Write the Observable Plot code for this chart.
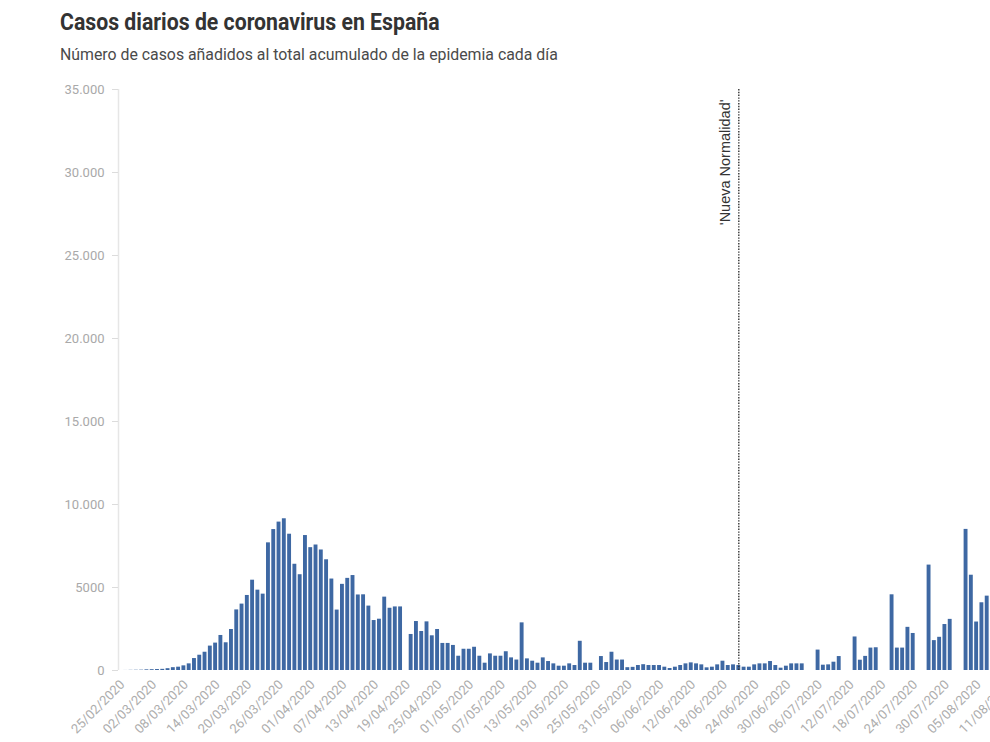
<!DOCTYPE html>
<html>
<head>
<meta charset="utf-8">
<script src="https://cdn.jsdelivr.net/npm/d3@7"></script>
<script src="https://cdn.jsdelivr.net/npm/@observablehq/plot@0.6"></script>
<style>
  html, body { margin: 0; padding: 0; background: #fff; overflow: hidden; }
  #wrap { position: relative; width: 990px; height: 742px; }
  #chart { position: absolute; left: 0; top: 0; }
  .head { position: absolute; left: 60px; white-space: nowrap; transform-origin: left top; }
  #title { top: 10px; font-family: Roboto, sans-serif; font-weight: 700; font-size: 24px; line-height: 1; color: #333; transform: scaleX(0.885); }
  #subtitle { top: 47px; font-family: Roboto, sans-serif; font-weight: 400; font-size: 16px; line-height: 1; color: #4a4a4a; transform: scaleX(0.99); }
</style>
</head>
<body>
<div id="wrap">
  <div id="chart"></div>
  <div class="head" id="title">Casos diarios de coronavirus en España</div>
  <div class="head" id="subtitle">Número de casos añadidos al total acumulado de la epidemia cada día</div>
</div>
<script>
// First day of the series; one value per consecutive day (null = no report that day)
const startDate = "2020-02-25";
const dailyCases = [
  0, 3, 10, 15, 20, 40, 50, 60, 70, 110,
  170, 200, 280, 400, 720, 920, 1100, 1470, 1650, 2110,
  1670, 2470, 3650, 4000, 4520, 5440, 4840, 4600, 7690, 8490,
  8940, 9140, 8210, 6400, 5770, 8130, 7400, 7560, 7260, 6670,
  5510, 3640, 5190, 5550, 5720, 4550, 4560, 3880, 3010, 3090,
  4420, 3750, 3830, 3830, null, 2170, 2950, 2350, 2930, 2090,
  2470, 1630, 1630, 1510, 860, 1280, 1280, 1400, 860, 440,
  1000, 860, 860, 1130, 760, 630, 2870, 700, 560, 440,
  760, 540, 400, 260, 260, 400, 300, 1760, 440, 440,
  null, 840, 480, 1100, 630, 630, 170, 190, 300, 350,
  300, 300, 300, 200, 120, 200, 300, 400, 460, 400,
  340, 160, 200, 340, 560, 300, 340, 300, 200, 200,
  340, 400, 400, 540, 300, 140, 260, 400, 400, 400,
  null, null, 1230, 320, 340, 500, 840, null, null, 2020,
  620, 850, 1350, 1370, null, null, 4560, 1350, 1350, 2600,
  2230, null, null, 6350, 1800, 2000, 2770, 3080, null, null,
  8500, 5740, 2920, 4080, 4480
];

// Date labels shown along the bottom axis
const xTickLabels = [
  "25/02/2020", "02/03/2020", "08/03/2020", "14/03/2020", "20/03/2020", "26/03/2020",
  "01/04/2020", "07/04/2020", "13/04/2020", "19/04/2020", "25/04/2020", "01/05/2020",
  "07/05/2020", "13/05/2020", "19/05/2020", "25/05/2020", "31/05/2020", "06/06/2020",
  "12/06/2020", "18/06/2020", "24/06/2020", "30/06/2020", "06/07/2020", "12/07/2020",
  "18/07/2020", "24/07/2020", "30/07/2020", "05/08/2020", "11/08/2020"
];

// Value axis
const yTicks = [0, 5000, 10000, 15000, 20000, 25000, 30000, 35000];
const yTickLabels = ["0", "5000", "10.000", "15.000", "20.000", "25.000", "30.000", "35.000"];

// Annotation
const normalityDate = "2020-06-21";
const normalityLabel = "'Nueva Normalidad'";

const barColor = "#3e68a3";
const parseLabel = d3.utcParse("%d/%m/%Y");
const start = new Date(startDate + "T00:00Z");

const rows = dailyCases
  .map((value, i) => ({date: d3.utcDay.offset(start, i), value}))
  .filter(d => d.value != null);

const xTickDates = xTickLabels.map(parseLabel);
const normality = new Date(normalityDate + "T00:00Z");
const xDomain = [new Date("2020-02-24T15:00Z"), new Date("2020-08-07T15:00Z")];

const chart = Plot.plot({
  width: 990,
  height: 742,
  marginTop: 89,
  marginBottom: 72,
  marginLeft: 118,
  marginRight: 0,
  style: {fontFamily: "Roboto, sans-serif", fontSize: "13px", background: "white"},
  x: {type: "utc", domain: xDomain},
  y: {domain: [0, 35000]},
  marks: [
    Plot.ruleX([xDomain[0]], {stroke: "#e6e6e6", strokeWidth: 1.5}),
    Plot.rectY(rows, {
      x1: d => d3.utcHour.offset(d.date, -12),
      x2: d => d3.utcHour.offset(d.date, 12),
      y: "value",
      fill: barColor,
      insetLeft: 0.7,
      insetRight: 0.7,
      clip: true
    }),
    Plot.ruleX([normality], {stroke: "#333", strokeWidth: 1.4, strokeDasharray: "1.4,1.4"}),
    Plot.text([normality], {
      x: d => d,
      frameAnchor: "top",
      text: () => normalityLabel,
      rotate: -90,
      textAnchor: "end",
      dx: -19,
      dy: 10,
      fontSize: 14.5,
      fontFamily: "'Liberation Sans', Arial, sans-serif",
      fill: "#333"
    }),
    Plot.axisY(yTicks, {
      tickSize: 6,
      tickPadding: 8,
      stroke: "#dcdcdc",
      fill: "#a9a9a9",
      tickFormat: d => yTickLabels[yTicks.indexOf(d)],
      label: null
    }),
    Plot.axisX(xTickDates, {
      tickSize: 0,
      tickPadding: 12,
      tickRotate: -45,
      dx: 2,
      fill: "#adadad",
      tickFormat: d3.utcFormat("%d/%m/%Y"),
      label: null
    })
  ]
});
document.getElementById("chart").appendChild(chart);
</script>
</body>
</html>
